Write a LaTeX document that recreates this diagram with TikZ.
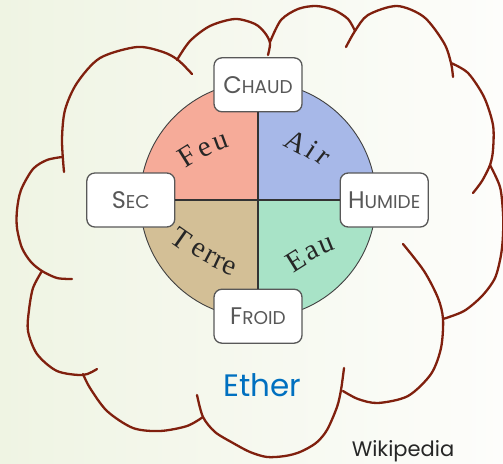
\documentclass[tikz,border=0pt]{standalone}
\usepackage{fontspec}
\usepackage{tikz}

\newfontfamily\qualfont{Poppins}
\newfontfamily\etherfont{Poppins}
\newfontfamily\elemfont{Liberation Serif}

\definecolor{cloudbrown}{RGB}{128,32,14}
\definecolor{feucol}{RGB}{246,171,153}
\definecolor{aircol}{RGB}{167,184,232}
\definecolor{terrecol}{RGB}{211,191,150}
\definecolor{eaucol}{RGB}{168,227,199}
\definecolor{ethercol}{RGB}{0,112,192}
\definecolor{boxgray}{RGB}{88,88,88}
\definecolor{bgleft}{RGB}{239,244,227}
\definecolor{bgright}{RGB}{253,253,251}

% first letter large, the rest as small capitals
\newcommand{\qualname}[2]{{\fontsize{24}{24}\selectfont #1}{\fontsize{18.5}{18.5}\selectfont #2}}

\tikzset{
  cloudline/.style={draw=cloudbrown, line width=2.3pt, line cap=round},
  qualbox/.style={draw=boxgray, line width=1.3pt, fill=white, rounded corners=8pt,
    minimum width=88pt, minimum height=54pt, inner sep=0pt, text=boxgray, font=\qualfont},
  elem/.style={inner sep=0pt, font=\elemfont\fontsize{29}{29}\selectfont, text=black!85},
  divider/.style={draw=black!80, line width=1.3pt},
}

\begin{document}
\begin{tikzpicture}[x=1pt, y=-1pt]
\useasboundingbox (0,0) rectangle (503,463);
\shade[left color=bgleft, right color=bgright] (0,0) rectangle (503,463);

% cloud, one bump at a time, clockwise from the left
\draw[cloudline] plot[smooth] coordinates {(72,279) (57,278) (42,271) (31,262) (22,248) (17,228) (17,210) (21,190) (33,169) (47,160) (62,157)};
\draw[cloudline] plot[smooth] coordinates {(64,172) (62,140) (65,110) (77,83) (100,58) (137,47) (163,52) (178,60) (192,74)};
\draw[cloudline] plot[smooth] coordinates {(177,60) (190,41) (210,26) (235,19) (255,24) (265,33) (270,43) (268,55)};
\draw[cloudline] plot[smooth] coordinates {(270,42) (281,20) (298,9) (316,6) (334,10) (348,19) (355,31)};
\draw[cloudline] plot[smooth] coordinates {(346,47) (355,31) (368,15) (397,6) (424,17) (444,43) (451,63) (453,77)};
\draw[cloudline] plot[smooth] coordinates {(451,63) (468,73) (484,97) (493,125) (493,150) (490,165) (482,181) (473,193)};
\draw[cloudline] plot[smooth] coordinates {(490,165) (500,187) (503,213) (503,235) (501,255) (495,278) (482,296) (464,311) (443,319)};
\draw[cloudline] plot[smooth] coordinates {(403,244) (424,271) (438,298) (443,319) (441,348) (431,374) (408,396) (378,403) (358,399) (343,391)};
\draw[cloudline] plot[smooth] coordinates {(197,395) (203,417) (215,432) (233,443) (250,452) (267,457) (285,456) (300,452) (316,443) (327,430) (337,407) (341,390) (344,368)};
\draw[cloudline] plot[smooth] coordinates {(83,374) (90,388) (107,411) (133,428) (160,431) (187,426) (203,417)};
\draw[cloudline] plot[smooth] coordinates {(42,271) (33,288) (29,310) (28,331) (37,354) (57,371) (83,375) (97,369)};

% the four elements
\node[circle, minimum size=236pt, inner sep=0pt] (disc) at (258,200) {};
\begin{scope}
  \clip (disc.center) circle[radius=118];
  \fill[feucol] (disc.center) rectangle ++(-118,-118);
  \fill[aircol] (disc.center) rectangle ++(118,-118);
  \fill[terrecol] (disc.center) rectangle ++(-118,118);
  \fill[eaucol] (disc.center) rectangle ++(118,118);
\end{scope}
\draw[black!75, line width=0.9pt] (disc.center) circle[radius=118];

% qualities
\node[qualbox] (chaud) at ([yshift=-3pt]disc.north) {\qualname{C}{HAUD}};
\node[qualbox] (sec) at ([xshift=-9pt]disc.west) {\qualname{S}{EC}};
\node[qualbox] (humide) at ([xshift=8pt]disc.east) {\qualname{H}{UMIDE}};
\node[qualbox] (froid) at ([yshift=2pt]disc.south) {\qualname{F}{ROID}};
\draw[divider] (chaud) -- (froid);
\draw[divider] (sec) -- (humide);

% element names, letter by letter
\foreach \ch/\dx/\dy/\rot [count=\i] in {F/-71/-44/32, e/-53/-50/26, u/-37/-57/20}
  \node[elem, rotate=\rot] (feu\i) at ([shift={(\dx,\dy)}]disc.center) {\ch};
\foreach \ch/\dx/\dy/\rot [count=\i] in {A/38/-58/-28, i/54/-50/-33, r/65/-42/-38}
  \node[elem, rotate=\rot] (air\i) at ([shift={(\dx,\dy)}]disc.center) {\ch};
\foreach \ch/\dx/\dy/\rot [count=\i] in {T/-77/39/-35, e/-60/50/-31, r/-48/57/-28, r/-39/62/-25, e/-29/68/-22}
  \node[elem, rotate=\rot] (terre\i) at ([shift={(\dx,\dy)}]disc.center) {\ch};
\foreach \ch/\dx/\dy/\rot [count=\i] in {E/38/61/32, a/54/53/27, u/69/46/22}
  \node[elem, rotate=\rot] (eau\i) at ([shift={(\dx,\dy)}]disc.center) {\ch};

\node[anchor=base, inner sep=0pt, text=ethercol, font=\etherfont\fontsize{31}{31}\selectfont] (ether) at (262,396) {Ether};
\node[anchor=base, inner sep=0pt, text=black!85, font=\etherfont\fontsize{21}{21}\selectfont] (source) at (403,456) {Wikipedia};
\end{tikzpicture}
\end{document}
